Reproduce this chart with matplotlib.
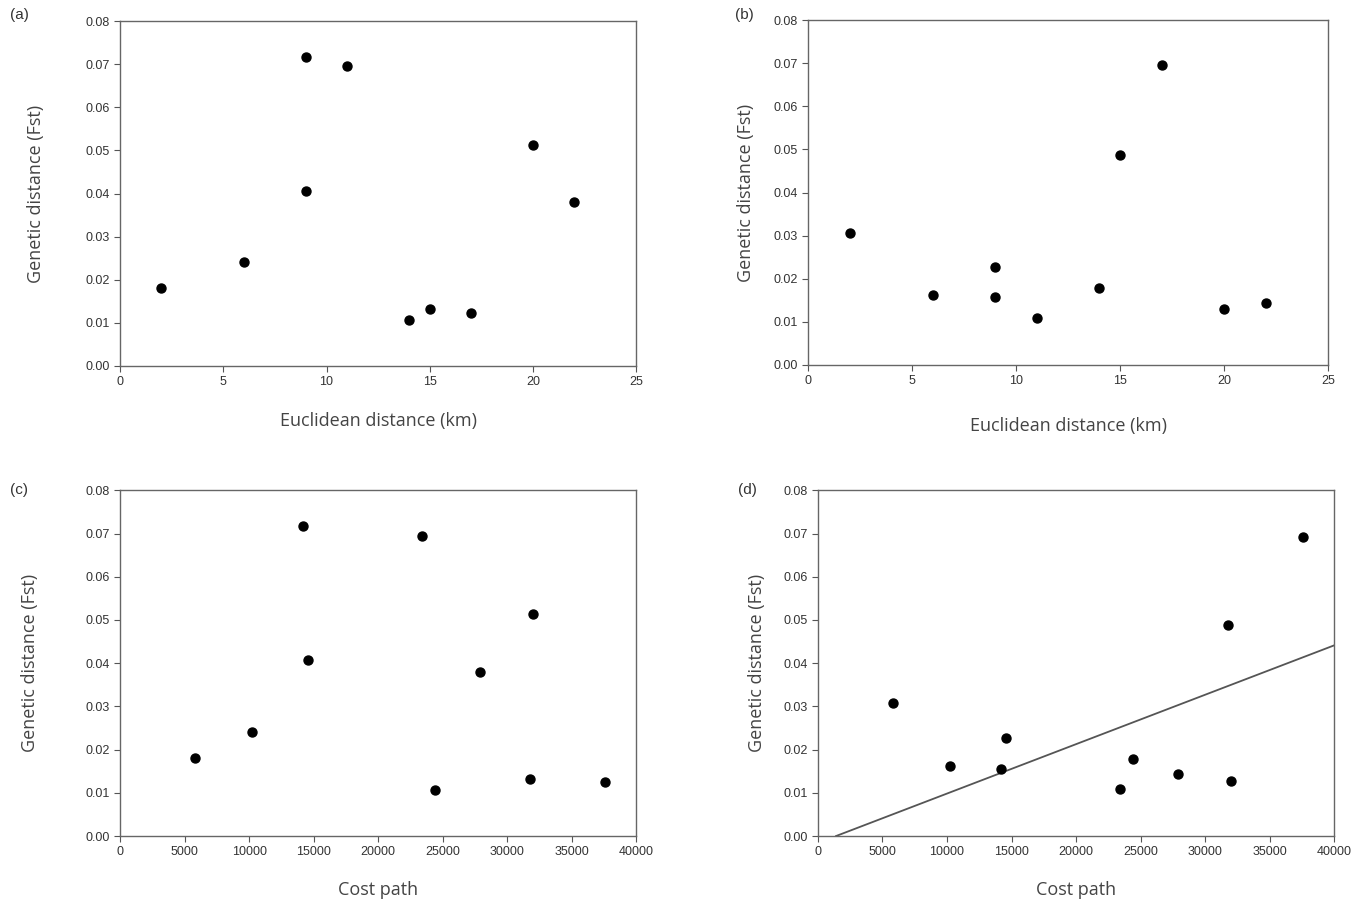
import numpy as np
import matplotlib.pyplot as plt

# panel a / b : euclidean distance (km)
euc_km = [2, 6, 9, 9, 11, 14, 15, 17, 20, 22]
fst_a = [0.0180, 0.0241, 0.0718, 0.0407, 0.0697, 0.0107, 0.0133, 0.0124, 0.0513, 0.0380]
fst_b = [0.0306, 0.0162, 0.0228, 0.0157, 0.0110, 0.0178, 0.0487, 0.0695, 0.0129, 0.0144]

# panel c / d : cost path
cost = [5800, 10200, 14200, 14600, 23400, 24400, 27900, 31800, 32000, 37600]
fst_c = [0.0180, 0.0241, 0.0718, 0.0407, 0.0695, 0.0107, 0.0380, 0.0133, 0.0513, 0.0124]
fst_d = [0.0308, 0.0161, 0.0156, 0.0228, 0.0109, 0.0178, 0.0143, 0.0488, 0.0128, 0.0693]

# regression line shown in (d)
fit_slope = 1.143e-6
fit_icpt = -0.0016

plt.rcParams['font.family'] = ['Liberation Sans', 'DejaVu Sans']

fig = plt.figure(figsize=(13.69, 9.05), dpi=100)

panels = [
    ("(a)", euc_km, fst_a, 25, 5, "Euclidean distance (km)", [0.0877, 0.5956, 0.377, 0.381], -0.145, -0.133),
    ("(b)", euc_km, fst_b, 25, 5, "Euclidean distance (km)", [0.5902, 0.5967, 0.380, 0.381], -0.102, -0.151),
    ("(c)", cost, fst_c, 40000, 5000, "Cost path", [0.0877, 0.0762, 0.377, 0.382], -0.157, -0.130),
    ("(d)", cost, fst_d, 40000, 5000, "Cost path", [0.5975, 0.0762, 0.377, 0.382], -0.101, -0.130),
]

label_pos = {"(a)": (10, 15), "(b)": (735, 15), "(c)": (10, 490), "(d)": (738, 490)}

for name, xs, ys, xmax, xstep, xlab, rect, ylx, xly in panels:
    ax = fig.add_axes(rect)
    ax.scatter(xs, ys, s=42, color="black", zorder=3)
    if name == "(d)":
        xx = np.array([-fit_icpt / fit_slope, 40000])
        ax.plot(xx, fit_icpt + fit_slope * xx, color="#555555", lw=1.3)
    ax.set_xlim(0, xmax)
    ax.set_ylim(0, 0.08)
    ax.set_xticks(np.arange(0, xmax + 1, xstep))
    ax.set_yticks(np.arange(0, 0.0801, 0.01))
    ax.set_yticklabels([f"{v:.2f}" for v in np.arange(0, 0.0801, 0.01)])
    ax.tick_params(labelsize=9, length=4, color="#555555", labelcolor="#333333")
    for sp in ax.spines.values():
        sp.set_color("#666666")
        sp.set_linewidth(1.0)
    ax.set_ylabel("Genetic distance (Fst)", fontsize=13, color="#444444", family="Open Sans")
    ax.set_xlabel(xlab, fontsize=13, color="#444444", family="Open Sans")
    ax.yaxis.set_label_coords(ylx, 0.5)
    ax.xaxis.set_label_coords(0.5, xly)
    px, py = label_pos[name]
    fig.text(px / 1369, 1 - py / 905, name, fontsize=11, color="#333333", va="center")

fig.savefig("out.png", dpi=100)
